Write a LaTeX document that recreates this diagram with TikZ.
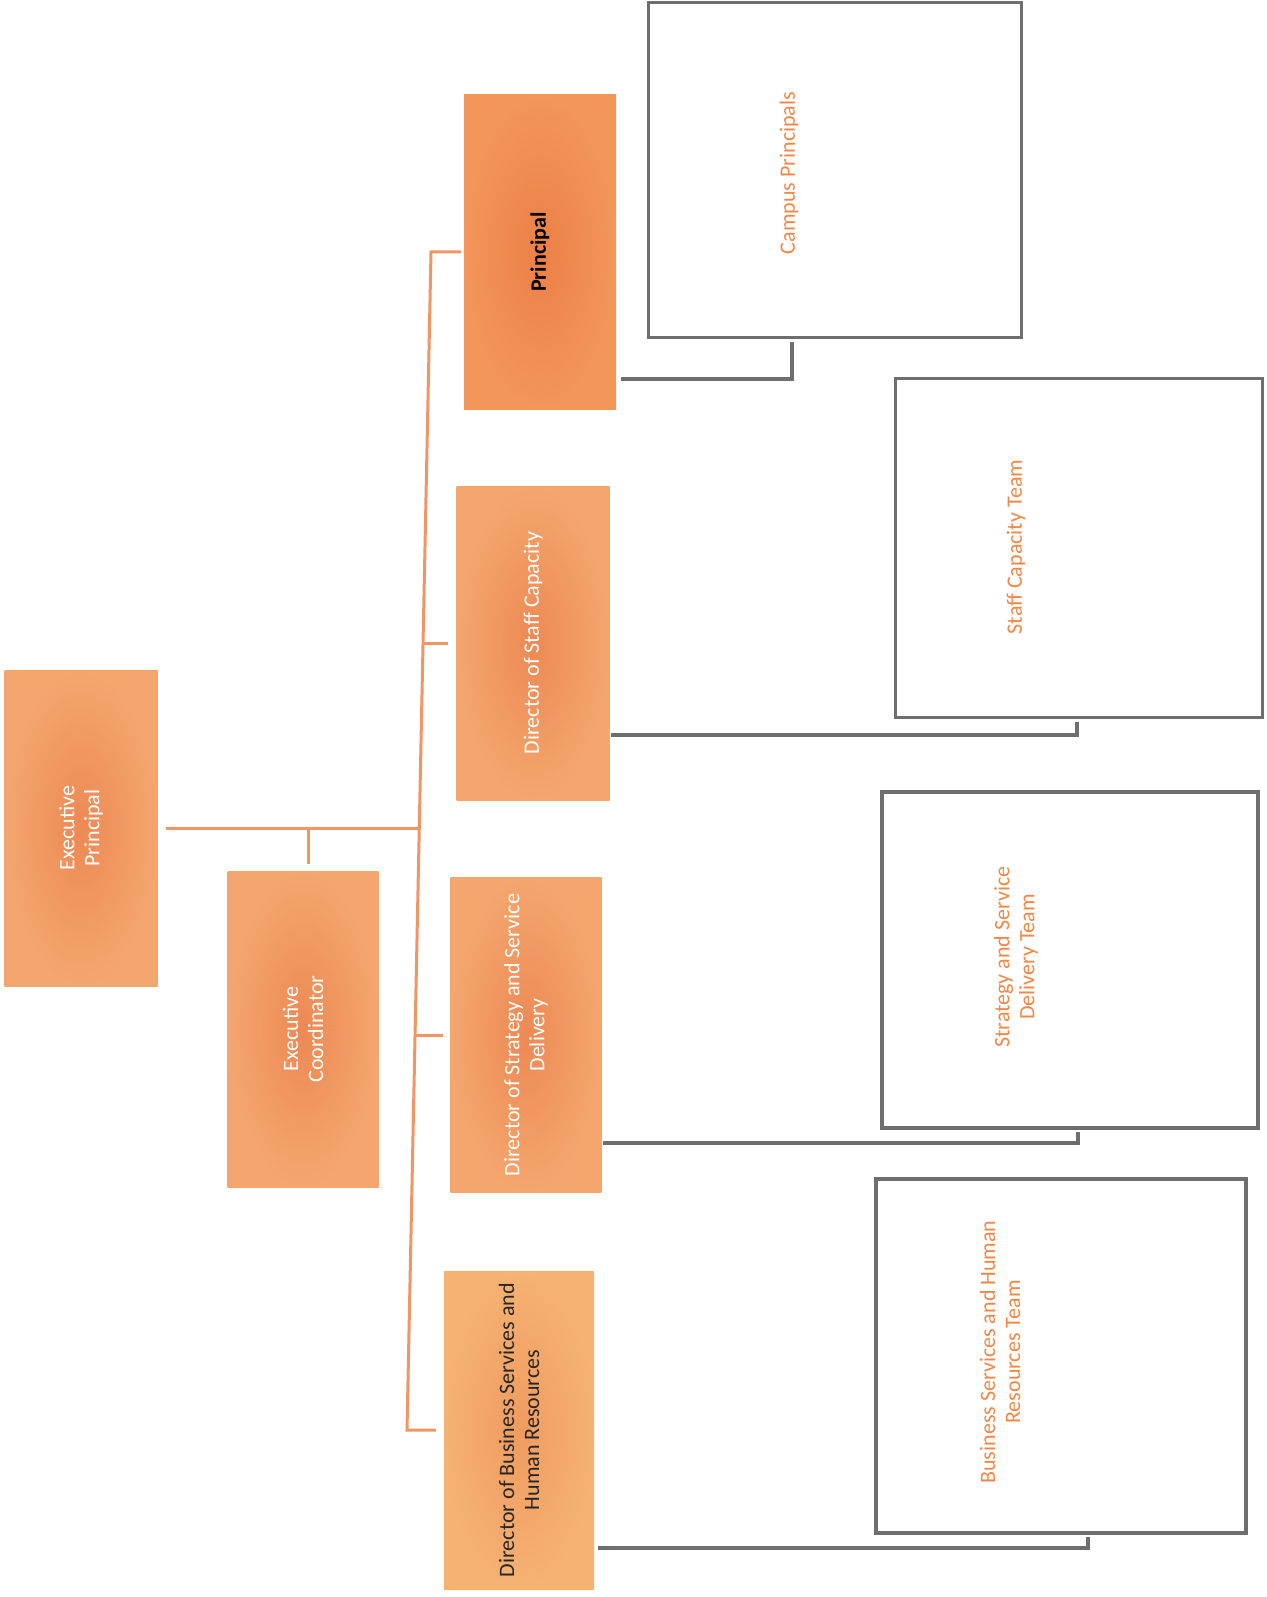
\documentclass[tikz,border=0pt]{standalone}
\usepackage{fontspec}
\setmainfont{Carlito}
\definecolor{orin}{RGB}{237,137,84}
\definecolor{orout}{RGB}{244,166,110}
\definecolor{oline}{RGB}{240,150,100}
\definecolor{otxt}{RGB}{242,135,70}
\definecolor{gline}{RGB}{110,110,110}
\tikzset{
  fbox/.style={rectangle, inner sep=0pt, shading=radial, inner color=orin, outer color=orout},
  obox/.style={rectangle, inner sep=0pt, draw=gline, line width=3.5pt, fill=white},
  ftxt/.style={rotate=90, align=center, text=white, font=\fontsize{22}{25}\selectfont},
  ptxt/.style={rotate=90, align=center, text=black, font=\fontsize{22}{25}\selectfont\bfseries},
  dtxt/.style={rotate=90, align=center, text=black!85, font=\fontsize{22}{25}\selectfont},
  otext/.style={rotate=90, align=center, text=otxt, font=\fontsize{22}{25}\selectfont},
  oconn/.style={draw=oline, line width=3pt},
  gconn/.style={draw=gline, line width=4pt}
}
\begin{document}
\begin{tikzpicture}[x=1pt,y=-1pt]
\useasboundingbox[fill=white] (0,0) rectangle (1266,1597);

% filled boxes
\node[fbox, minimum width=153pt, minimum height=316pt] (ep) at (81,828) {};
\node[fbox, minimum width=151pt, minimum height=316pt] (ec) at (303,1029) {};
\node[fbox, minimum width=152pt, minimum height=314pt, inner color={rgb,255:red,236;green,128;blue,70}, outer color={rgb,255:red,242;green,150;blue,90}] (p) at (540,252) {};
\node[fbox, minimum width=153pt, minimum height=314pt] (dsc) at (533,643) {};
\node[fbox, minimum width=151pt, minimum height=315pt] (dssd) at (526,1035) {};
\node[fbox, minimum width=150pt, minimum height=318pt, inner color={rgb,255:red,240;green,155;blue,95}, outer color={rgb,255:red,245;green,178;blue,115}] (dbs) at (519,1430) {};

\node[ftxt] (tep) at (ep.center) {Executive\\Principal};
\node[ftxt] (tec) at (ec.center) {Executive\\Coordinator};
\node[ptxt] (tp) at (p.center) {Principal};
\node[ftxt] (tdsc) at (dsc.center) {Director of Staff Capacity};
\node[ftxt] (tdssd) at (dssd.center) {Director of Strategy and Service\\Delivery};
\node[dtxt] (tdbs) at (dbs.center) {Director of Business Services and\\Human Resources};

% outline boxes
\node[obox, minimum width=373pt, minimum height=335pt] (cp) at (835,170) {};
\node[obox, minimum width=367pt, minimum height=339pt] (sct) at (1079,548) {};
\node[obox, minimum width=376pt, minimum height=336pt] (ssdt) at (1070,960) {};
\node[obox, minimum width=370pt, minimum height=354pt] (bst) at (1061,1356) {};

\node[otext] (tcp) at (789,173) {Campus Principals};
\node[otext] (tsct) at (1016,547) {Staff Capacity Team};
\node[otext] (tssdt) at (1016,957) {Strategy and Service\\Delivery Team};
\node[otext] (tbst) at (1000,1352) {Business Services and Human\\Resources Team};

% orange connectors
\coordinate (s1) at (431,252);
\coordinate (s2) at (423,643);
\coordinate (s3) at (415,1035);
\coordinate (s4) at (407,1430);
\coordinate (se) at (419,828);
\coordinate (sc) at (308,828);
\coordinate (ect) at ([yshift=7pt]ec.north);
\draw[oconn] ([xshift=-3pt]p.west) -- (s1) -- (s4) -- ([xshift=-8pt]dbs.west);
\draw[oconn] (s2) -- ([xshift=-8pt]dsc.west);
\draw[oconn] (s3) -- ([xshift=-7pt]dssd.west);
\draw[oconn] ([xshift=8pt]ep.east) -- (se);
\draw[oconn] (sc) -- (sc |- ect);

% gray connectors
\coordinate (g1) at (621,379);
\coordinate (g1e) at (792,342);
\coordinate (g2) at (611,735);
\coordinate (g2e) at (1077,722);
\coordinate (g3) at (603,1143);
\coordinate (g3e) at (1078,1132);
\coordinate (g4) at (598,1548);
\coordinate (g4e) at (1088,1537);
\draw[gconn] (g1) -| (g1e);
\draw[gconn] (g2) -| (g2e);
\draw[gconn] (g3) -| (g3e);
\draw[gconn] (g4) -| (g4e);
\end{tikzpicture}
\end{document}
